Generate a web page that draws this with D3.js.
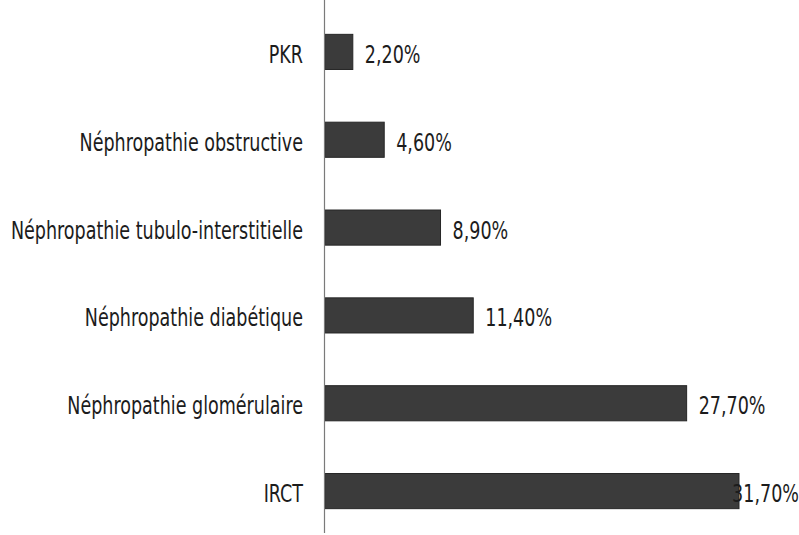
<!DOCTYPE html>
<html><head><meta charset="utf-8">
<script src="https://cdn.jsdelivr.net/npm/d3@7"></script>
<style>body{margin:0;background:#fff}svg{display:block}</style>
</head><body><svg id="c" width="799" height="535"></svg>
<script>
const categories = ["PKR","Néphropathie obstructive","Néphropathie tubulo-interstitielle","Néphropathie diabétique","Néphropathie glomérulaire","IRCT"];
const values = [2.2, 4.6, 8.9, 11.4, 27.7, 31.7];
const valueLabels = ["2,20%","4,60%","8,90%","11,40%","27,70%","31,70%"];

const W = 799, H = 535;
const svg = d3.select("#c");
const axisX = 324;
const x = d3.scaleLinear().domain([0, 31.7]).range([axisX, 739]);
const y = d3.scaleBand().domain(categories).range([8, 535]).paddingInner(0.6).paddingOuter(0.3);

const font = "'DejaVu Sans Condensed', 'DejaVu Sans', sans-serif";
const fs = 25, sx = 0.78;

svg.selectAll("rect.bar").data(values).enter().append("rect")
  .attr("class","bar")
  .attr("x", x(0)+1)
  .attr("y", (d,i)=>y(categories[i]))
  .attr("width", d=>x(d)-x(0)-1)
  .attr("height", y.bandwidth())
  .attr("fill","#3b3b3b")
  .attr("stroke","#262626").attr("stroke-width",1);

svg.append("line").attr("x1",axisX+0.5).attr("x2",axisX+0.5).attr("y1",0).attr("y2",533)
  .attr("stroke","#7a7a7a").attr("stroke-width",1.2);

svg.selectAll("text.cat").data(categories).enter().append("text")
  .attr("class","cat")
  .attr("transform", d=>`translate(303,${y(d)+y.bandwidth()/2+2}) scale(${sx},1)`)
  .attr("dy","0.36em")
  .attr("text-anchor","end")
  .attr("font-family", font).attr("font-size", fs)
  .attr("fill","#1c1c1c")
  .text(d=>d);

svg.selectAll("text.val").data(values).enter().append("text")
  .attr("class","val")
  .attr("dy","0.36em")
  .attr("font-family", font).attr("font-size", fs)
  .attr("fill","#1c1c1c")
  .text((d,i)=>valueLabels[i])
  .attr("transform", function(d,i){
    const w = this.getComputedTextLength()*sx;
    const tx = Math.min(x(d)+12, W - w);
    return `translate(${tx},${y(categories[i])+y.bandwidth()/2+2}) scale(${sx},1)`;
  });
</script></body></html>
